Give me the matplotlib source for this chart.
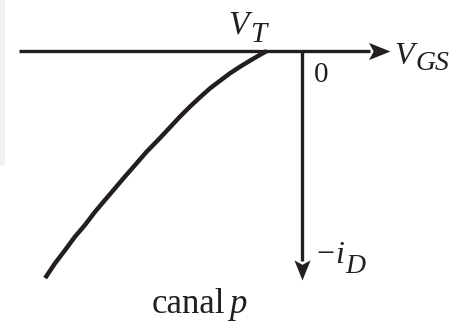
import matplotlib.pyplot as plt
from matplotlib.patches import Rectangle
from matplotlib.path import Path

# Curva de transferência (MOSFET canal p), unidades arbitrárias
v_t = -1.0
vgs = [-1.0, -1.20, -1.49, -1.77, -2.06, -2.34, -2.63, -2.91, -3.20, -3.49,
       -3.77, -4.06, -4.44, -4.77, -5.06, -5.34, -5.63, -5.91, -6.20, -6.49,
       -6.77, -7.06, -7.34]
id_neg = [0.0, 0.11, 0.28, 0.45, 0.64, 0.85, 1.07, 1.32, 1.59, 1.88,
          2.18, 2.49, 2.88, 3.26, 3.59, 3.92, 4.26, 4.59, 4.97, 5.31,
          5.69, 6.07, 6.49]

# Extensão dos eixos desenhados
vgs_axis = (-8.09, 2.51)
id_axis = (0.0, 6.54)

cor = "#231f20"
plt.rcParams["font.family"] = "Liberation Serif"

fig = plt.figure(figsize=(4.59, 3.25), dpi=100)
ax = fig.add_axes([0, 0, 1, 1])
ax.set_xlim(-8.63, 4.49)
ax.set_ylim(7.83, -1.457)
ax.axis("off")

# faixa cinzenta à esquerda
ax.add_patch(Rectangle((0, 0.49), 0.011, 0.51, transform=ax.transAxes,
                       color="#f1f1f1", lw=0, zorder=0))

# pontas de seta com entalhe (ponta na origem do marcador)
seta_dir = Path([(0, 0), (-1, 0.4), (-0.78, 0), (-1, -0.4), (0, 0)],
                [Path.MOVETO, Path.LINETO, Path.LINETO, Path.LINETO, Path.CLOSEPOLY])
seta_baixo = Path([(0, 0), (0.4, 1), (0, 0.78), (-0.4, 1), (0, 0)],
                  [Path.MOVETO, Path.LINETO, Path.LINETO, Path.LINETO, Path.CLOSEPOLY])
recuo = 0.55  # a linha do eixo termina no entalhe

# eixo V_GS
ax.plot([vgs_axis[0], vgs_axis[1] - recuo], [0, 0], color=cor, lw=2.4,
        solid_capstyle="butt")
ax.plot(vgs_axis[1], 0, marker=seta_dir, ms=31, color=cor, mew=0)
# eixo -i_D
ax.plot([0, 0], [id_axis[0], id_axis[1] - recuo], color=cor, lw=2.4,
        solid_capstyle="butt")
ax.plot(0, id_axis[1], marker=seta_baixo, ms=29, color=cor, mew=0)

# curva
ax.plot(vgs, id_neg, color=cor, lw=3.2, solid_capstyle="butt",
        solid_joinstyle="round")


def rotulo(x, y, s, size, italic=True):
    ax.text(x, y, s, fontsize=size, color=cor, ha="left", va="baseline",
            style="italic" if italic else "normal")


rotulo(-2.10, -0.49, "V", 24)
rotulo(-1.48, -0.27, "T", 21)
rotulo(2.63, 0.37, "V", 23)
rotulo(3.25, 0.55, "GS", 20)
rotulo(0.35, 0.89, "0", 21, italic=False)
rotulo(0.42, 6.06, "\u2212", 23, italic=False)
rotulo(0.94, 6.06, "i", 23)
rotulo(1.24, 6.33, "D", 20)
rotulo(-4.31, 7.49, "canal", 25, italic=False)
rotulo(-2.08, 7.49, "p", 25)

plt.savefig("out.png", dpi=100)
